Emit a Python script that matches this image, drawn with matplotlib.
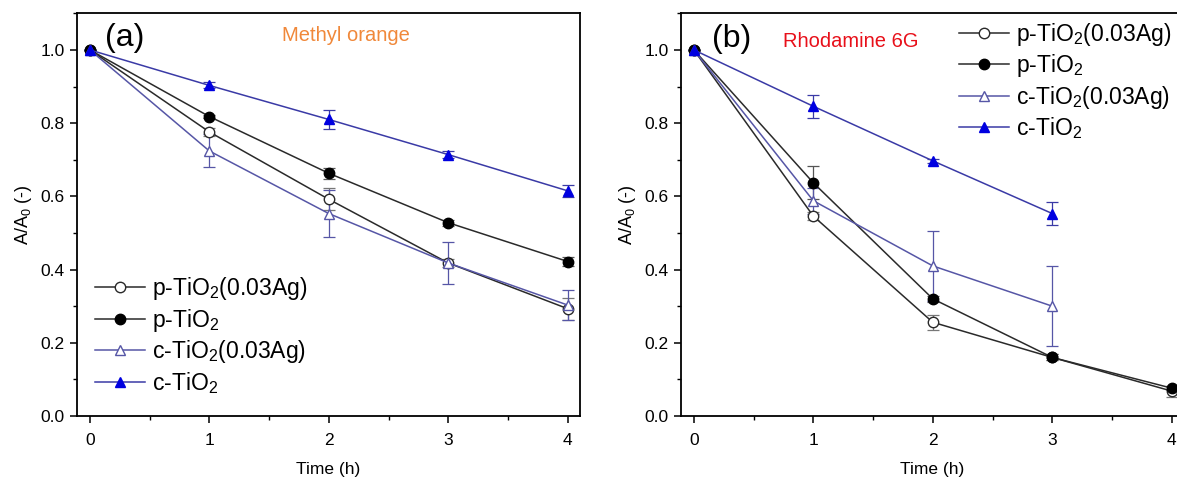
import matplotlib
matplotlib.use("Agg")
import matplotlib.pyplot as plt
from matplotlib.ticker import MultipleLocator

plt.rcParams['font.family'] = ['Liberation Sans', 'DejaVu Sans']
plt.rcParams['mathtext.fontset'] = 'custom'
plt.rcParams['mathtext.rm'] = 'Liberation Sans'
plt.rcParams['mathtext.it'] = 'Liberation Sans:italic'
plt.rcParams['mathtext.bf'] = 'Liberation Sans:bold'
plt.rcParams['mathtext.default'] = 'regular'

# ---- data ----
time_full = [0, 1, 2, 3, 4]
time_short = [0, 1, 2, 3]
labels = ['p-TiO$_2$(0.03Ag)', 'p-TiO$_2$', 'c-TiO$_2$(0.03Ag)', 'c-TiO$_2$']
yticks = [0.0, 0.2, 0.4, 0.6, 0.8, 1.0]
ytick_labels = ['0.0', '0.2', '0.4', '0.6', '0.8', '1.0']

# Panel (a): Methyl orange
pAg_a = [1.0, 0.776, 0.592, 0.418, 0.293]
pAg_a_err = [0, 0.010, 0.030, 0.010, 0.030]
p_a = [1.0, 0.818, 0.663, 0.528, 0.422]
p_a_err = [0, 0.005, 0.015, 0.008, 0.012]
cAg_a = [1.0, 0.724, 0.553, 0.418, 0.303]
cAg_a_err = [0, 0.045, 0.065, 0.057, 0.040]
c_a = [1.0, 0.903, 0.810, 0.714, 0.615]
c_a_err = [0, 0.008, 0.026, 0.010, 0.016]

# Panel (b): Rhodamine 6G
pAg_b = [1.0, 0.546, 0.256, 0.160, 0.068]
pAg_b_err = [0, 0.010, 0.020, 0.008, 0.015]
p_b = [1.0, 0.637, 0.320, 0.160, 0.076]
p_b_err = [0, 0.045, 0.008, 0.008, 0.006]
cAg_b = [1.0, 0.588, 0.410, 0.300]
cAg_b_err = [0, 0.035, 0.095, 0.110]
c_b = [1.0, 0.846, 0.697, 0.553]
c_b_err = [0, 0.031, 0.006, 0.032]

BLACK = '#2a2a2a'
SLATE = '#5656a6'
BLUE_LINE = '#3a3aa6'
BLUE = '#0000e0'

styles = [
    dict(color=BLACK, marker='o', mfc='white', mec=BLACK, ecolor='#777777'),
    dict(color=BLACK, marker='o', mfc='black', mec='black', ecolor='#555555'),
    dict(color=SLATE, marker='^', mfc='white', mec=SLATE, ecolor=SLATE),
    dict(color=BLUE_LINE, marker='^', mfc=BLUE, mec=BLUE, ecolor=BLUE_LINE),
]

fig = plt.figure(figsize=(11.77, 4.8), dpi=100)
W, H = 1177, 480
axA = fig.add_axes([76.7 / W, (480 - 416) / H, 503 / W, 402.7 / H])
axB = fig.add_axes([680.7 / W, (480 - 416) / H, 503 / W, 402.7 / H])


def draw(ax, xs_list, ys_list, errs_list):
    handles = []
    for xs, ys, es, st in zip(xs_list, ys_list, errs_list, styles):
        h = ax.errorbar(xs, ys, yerr=es, color=st['color'], marker=st['marker'],
                        mfc=st['mfc'], mec=st['mec'], ms=7.5, lw=1.1,
                        ecolor=st['ecolor'], elinewidth=0.9, capsize=4,
                        capthick=0.9, zorder=3)
        handles.append(h[0])
    ax.set_xlim(-0.11, 4.1)
    ax.set_ylim(0, 1.1)
    ax.xaxis.set_major_locator(MultipleLocator(1))
    ax.xaxis.set_minor_locator(MultipleLocator(0.5))
    ax.set_yticks(yticks)
    ax.set_yticklabels(ytick_labels)
    ax.yaxis.set_minor_locator(MultipleLocator(0.1))
    ax.tick_params(which='major', direction='out', length=5, width=1.1, labelsize=12.5)
    ax.tick_params(axis='x', which='major', pad=7)
    ax.tick_params(which='minor', direction='out', length=3, width=1.0)
    for s in ax.spines.values():
        s.set_linewidth(1.3)
    ax.set_xlabel('Time (h)', fontsize=12.5, labelpad=10)
    ax.set_ylabel('A/A$_0$ (-)', fontsize=13, labelpad=5)
    return handles


hA = draw(axA, [time_full] * 4, [pAg_a, p_a, cAg_a, c_a],
          [pAg_a_err, p_a_err, cAg_a_err, c_a_err])
hB = draw(axB, [time_full, time_full, time_short, time_short],
          [pAg_b, p_b, cAg_b, c_b], [pAg_b_err, p_b_err, cAg_b_err, c_b_err])

axA.text(0.056, 0.939, '(a)', transform=axA.transAxes, fontsize=23, va='center', ha='left')
axA.text(0.535, 0.946, 'Methyl orange', transform=axA.transAxes, fontsize=14.5,
         color='#f0883a', va='center', ha='center')
axB.text(0.062, 0.936, '(b)', transform=axB.transAxes, fontsize=23, va='center', ha='left')
axB.text(0.203, 0.929, 'Rhodamine 6G', transform=axB.transAxes, fontsize=14.5,
         color='#e8101a', va='center', ha='left')

common = dict(frameon=False, fontsize=16.5, handlelength=2.2, handletextpad=0.3,
              labelspacing=0.2, borderaxespad=0, borderpad=0)
axA.legend(hA, labels, loc='upper left', bbox_to_anchor=(0.036, 0.35), **common)
axB.legend(hB, labels, loc='upper left', bbox_to_anchor=(0.553, 0.982), **common)

fig.savefig('out.png', dpi=100)
